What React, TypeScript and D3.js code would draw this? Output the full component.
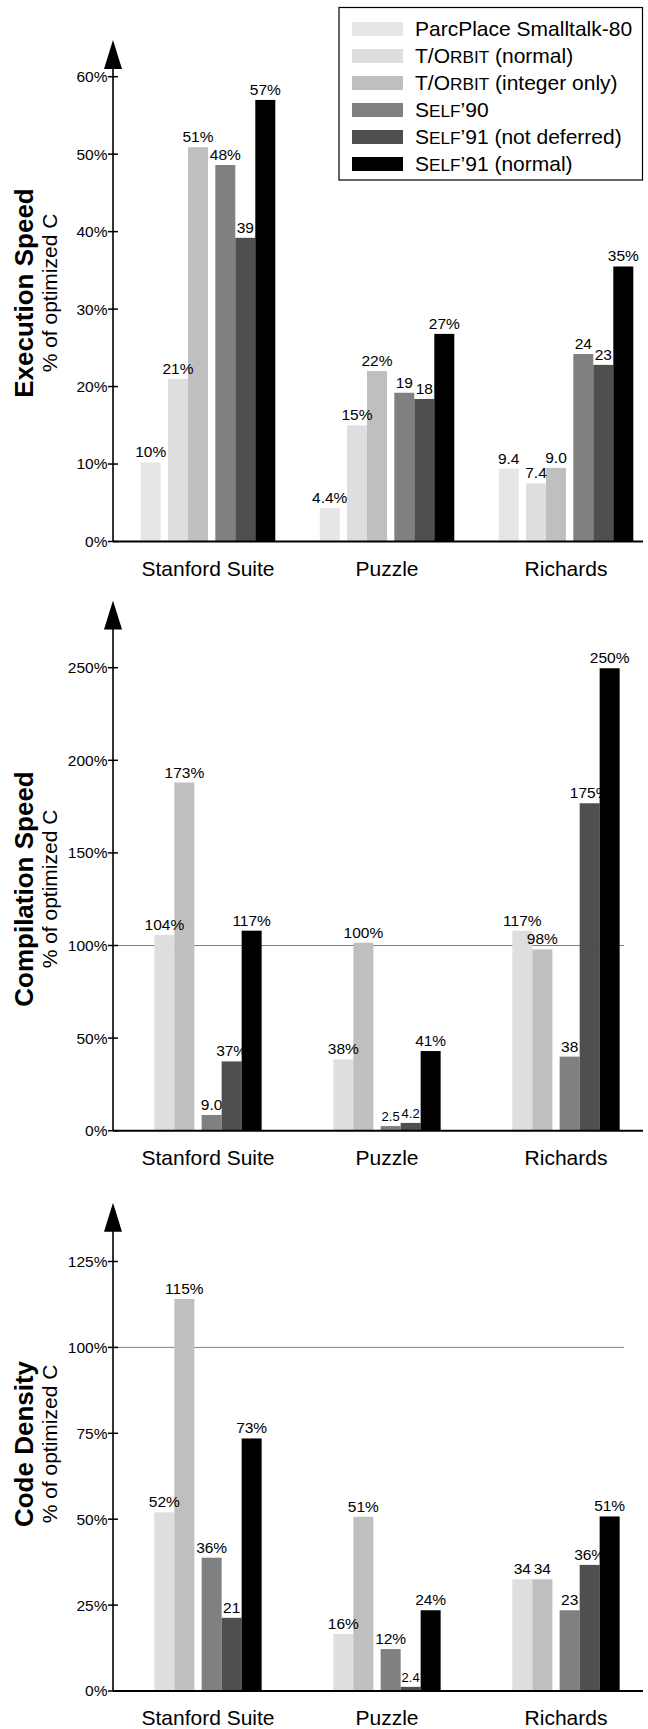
import React from "react";
import * as d3 from "d3";

// ---------- data ----------
const categories = ["Stanford Suite", "Puzzle", "Richards"];

const seriesKeys = ["parcplace", "torbitNormal", "torbitInt", "self90", "self91nd", "self91"];
const seriesColors = ["#e6e6e6", "#dedede", "#bfbfbf", "#808080", "#4f4f4f", "#000000"];
const seriesFamily = [0, 1, 1, 2, 2, 2];

// Execution speed (% of optimized C)
const execParcPlace = [10.2, 4.3, 9.4];
const execTOrbitNormal = [21, 15, 7.5];
const execTOrbitInt = [50.9, 22, 9.5];
const execSelf90 = [48.6, 19.2, 24.2];
const execSelf91nd = [39.2, 18.4, 22.8];
const execSelf91 = [57, 26.8, 35.5];
const execLabParcPlace = ["10%", "4.4%", "9.4"];
const execLabTOrbitNormal = ["21%", "15%", "7.4"];
const execLabTOrbitInt = ["51%", "22%", "9.0"];
const execLabSelf90 = ["48%", "19", "24"];
const execLabSelf91nd = ["39", "18", "23"];
const execLabSelf91 = ["57%", "27%", "35%"];
const execTicks = [0, 10, 20, 30, 40, 50, 60];

// Compilation speed
const compTOrbitNormal = [105.7, 38.5, 108];
const compTOrbitInt = [188, 101.5, 97.9];
const compSelf90 = [8.5, 2.5, 40];
const compSelf91nd = [37.4, 4.2, 176.8];
const compSelf91 = [108, 43, 249.7];
const compLabTOrbitNormal = ["104%", "38%", "117%"];
const compLabTOrbitInt = ["173%", "100%", "98%"];
const compLabSelf90 = ["9.0", "2.5", "38"];
const compLabSelf91nd = ["37%", "4.2", "175%"];
const compLabSelf91 = ["117%", "41%", "250%"];
const compTicks = [0, 50, 100, 150, 200, 250];

// Code density
const densTOrbitNormal = [52, 16.6, 32.5];
const densTOrbitInt = [114.1, 50.7, 32.5];
const densSelf90 = [38.8, 12.2, 23.5];
const densSelf91nd = [21.3, 1.2, 36.7];
const densSelf91 = [73.5, 23.5, 50.8];
const densLabTOrbitNormal = ["52%", "16%", "34"];
const densLabTOrbitInt = ["115%", "51%", "34"];
const densLabSelf90 = ["36%", "12%", "23"];
const densLabSelf91nd = ["21", "2.4", "36%"];
const densLabSelf91 = ["73%", "24%", "51%"];
const densTicks = [0, 25, 50, 75, 100, 125];

const smallLabels = ["2.5", "4.2", "2.4"];

// ---------- layout ----------
const W = 648;
const H = 1729;
const FONT = "'Liberation Sans', Arial, Helvetica, sans-serif";
const AX = 113;
const X_END = 643;
const BAR_W = 20;
const FAM_GAP = 7.3;

const xScale = d3.scalePoint<string>().domain(categories).range([208, 566]);

type Series = { idx: number; values: number[]; labels: string[] };

const panels = [
  {
    title: "Execution Speed",
    domainMax: 60,
    range: [541.5, 76.7],
    tip: 40,
    titleY: 293,
    ticks: execTicks,
    refLine: false,
    series: [
      { idx: 0, values: execParcPlace, labels: execLabParcPlace },
      { idx: 1, values: execTOrbitNormal, labels: execLabTOrbitNormal },
      { idx: 2, values: execTOrbitInt, labels: execLabTOrbitInt },
      { idx: 3, values: execSelf90, labels: execLabSelf90 },
      { idx: 4, values: execSelf91nd, labels: execLabSelf91nd },
      { idx: 5, values: execSelf91, labels: execLabSelf91 },
    ] as Series[],
  },
  {
    title: "Compilation Speed",
    domainMax: 250,
    range: [1130.7, 667.7],
    tip: 600.5,
    titleY: 889,
    ticks: compTicks,
    refLine: true,
    series: [
      { idx: 1, values: compTOrbitNormal, labels: compLabTOrbitNormal },
      { idx: 2, values: compTOrbitInt, labels: compLabTOrbitInt },
      { idx: 3, values: compSelf90, labels: compLabSelf90 },
      { idx: 4, values: compSelf91nd, labels: compLabSelf91nd },
      { idx: 5, values: compSelf91, labels: compLabSelf91 },
    ] as Series[],
  },
  {
    title: "Code Density",
    domainMax: 125,
    range: [1691, 1261.5],
    tip: 1202.7,
    titleY: 1444,
    ticks: densTicks,
    refLine: true,
    series: [
      { idx: 1, values: densTOrbitNormal, labels: densLabTOrbitNormal },
      { idx: 2, values: densTOrbitInt, labels: densLabTOrbitInt },
      { idx: 3, values: densSelf90, labels: densLabSelf90 },
      { idx: 4, values: densSelf91nd, labels: densLabSelf91nd },
      { idx: 5, values: densSelf91, labels: densLabSelf91 },
    ] as Series[],
  },
];

function barOffsets(series: Series[]) {
  const offs: number[] = [];
  let x = 0;
  series.forEach((s, i) => {
    if (i > 0 && seriesFamily[s.idx] !== seriesFamily[series[i - 1].idx]) x += FAM_GAP;
    offs.push(x);
    x += BAR_W;
  });
  return { offs, total: x };
}

function Panel({ p }: { p: (typeof panels)[number] }) {
  const y = d3.scaleLinear().domain([0, p.domainMax]).range(p.range);
  const y0 = y(0);
  const { offs, total } = barOffsets(p.series);
  const arrowBase = p.tip + 29;
  const label = (lab: string, x: number, top: number, key: string) => (
    <text
      key={key}
      x={x}
      y={top - 5}
      textAnchor="middle"
      fontSize={smallLabels.includes(lab) ? 13 : 15.5}
      fill="#000"
    >
      {lab}
    </text>
  );
  return (
    <g>
      {p.refLine && (
        <line x1={AX} x2={624} y1={y(100)} y2={y(100)} stroke="#808080" strokeWidth={1} />
      )}
      {categories.map((c, ci) => {
        const left = (xScale(c) as number) - total / 2;
        const bars = p.series.map((s, si) => {
          const bx = left + offs[si];
          const top = y(s.values[ci]);
          return { s, si, bx, top, lab: s.labels[ci] };
        });
        return (
          <g key={c}>
            {bars.map((b) => (
              <g key={b.si}>
                <rect x={b.bx} y={b.top} width={BAR_W} height={y0 - b.top} fill={seriesColors[b.s.idx]} />
                {seriesFamily[b.s.idx] !== 1 && label(b.lab, b.bx + BAR_W / 2, b.top, "l")}
              </g>
            ))}
            {bars
              .filter((b) => seriesFamily[b.s.idx] === 1)
              .map((b) => label(b.lab, b.bx + BAR_W / 2, b.top, "t" + b.si))}
            <text x={xScale(c) as number} y={y0 + 34} textAnchor="middle" fontSize={21}>
              {c}
            </text>
          </g>
        );
      })}
      {/* axes */}
      <line x1={AX} x2={X_END} y1={y0} y2={y0} stroke="#000" strokeWidth={2} />
      <line x1={AX} x2={AX} y1={arrowBase - 2} y2={y0} stroke="#000" strokeWidth={1.6} />
      <path d={`M${AX},${p.tip} L${AX + 9},${arrowBase} L${AX - 9},${arrowBase} Z`} fill="#000" />
      {p.ticks.map((t) => (
        <g key={t}>
          <line x1={AX - 5} x2={AX + 5} y1={y(t)} y2={y(t)} stroke="#000" strokeWidth={1.5} />
          <text x={AX - 5.5} y={y(t)} dy="0.35em" textAnchor="end" fontSize={15.5}>
            {t}%
          </text>
        </g>
      ))}
      <text
        transform={`translate(33,${p.titleY}) rotate(-90)`}
        textAnchor="middle"
        fontSize={26}
        fontWeight="bold"
      >
        {p.title}
      </text>
      <text transform={`translate(57,${p.titleY}) rotate(-90)`} textAnchor="middle" fontSize={21}>
        % of optimized C
      </text>
    </g>
  );
}

function LegendLabel({ i }: { i: number }) {
  const sc = { fontSize: "0.82em" } as any;
  switch (i) {
    case 0:
      return <>ParcPlace Smalltalk-80</>;
    case 1:
      return (
        <>
          T/O<tspan style={sc}>RBIT</tspan> (normal)
        </>
      );
    case 2:
      return (
        <>
          T/O<tspan style={sc}>RBIT</tspan> (integer only)
        </>
      );
    case 3:
      return (
        <>
          S<tspan style={sc}>ELF</tspan>’90
        </>
      );
    case 4:
      return (
        <>
          S<tspan style={sc}>ELF</tspan>’91 (not deferred)
        </>
      );
    default:
      return (
        <>
          S<tspan style={sc}>ELF</tspan>’91 (normal)
        </>
      );
  }
}

export default function App() {
  return (
    <svg
      width={W}
      height={H}
      viewBox={`0 0 ${W} ${H}`}
      style={{ position: "absolute", left: 0, top: 0, background: "#fff", fontFamily: FONT }}
    >
      <rect x={0} y={0} width={W} height={H} fill="#fff" />
      {panels.map((p) => (
        <Panel key={p.title} p={p} />
      ))}
      <g>
        <rect x={339} y={7.5} width={303.5} height={172.5} fill="#fff" stroke="#000" strokeWidth={1.2} />
        {seriesKeys.map((k, i) => {
          const cy = 29 + i * 27;
          return (
            <g key={k}>
              <rect x={352} y={cy - 7} width={51} height={14} fill={seriesColors[i]} />
              <text x={415} y={cy + 7} fontSize={21}>
                <LegendLabel i={i} />
              </text>
            </g>
          );
        })}
      </g>
    </svg>
  );
}
